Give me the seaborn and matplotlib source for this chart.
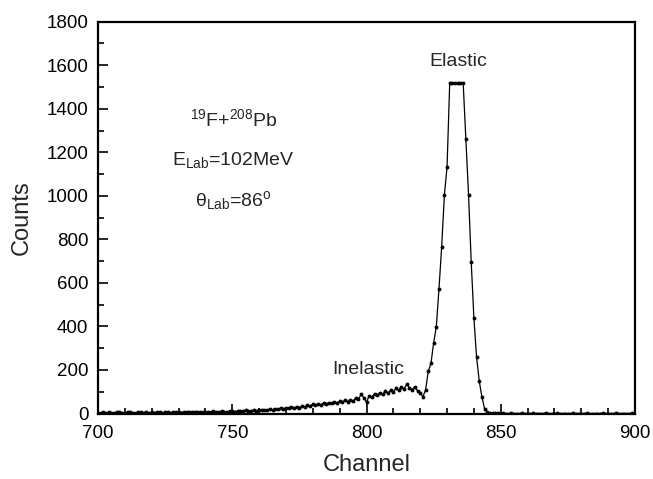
import numpy as np
import pandas as pd
import matplotlib
matplotlib.use("Agg")
import matplotlib.pyplot as plt
import seaborn as sns
from matplotlib.ticker import MultipleLocator

# ---- data ----
channel_start = 700
counts_700_749 = [4, 3, 5, 2, 6, 4, 3, 5, 7, 4,
                  3, 6, 5, 4, 2, 5, 7, 4, 6, 3,
                  5, 4, 6, 8, 3, 5, 6, 4, 7, 5,
                  6, 4, 8, 5, 7, 6, 9, 5, 7, 8,
                  6, 9, 7, 10, 8, 6, 11, 9, 8, 10]
counts_750_799 = [12, 9, 11, 13, 10, 14, 12, 11, 15, 13,
                  16, 14, 18, 15, 20, 17, 22, 19, 24, 21,
                  26, 23, 28, 25, 31, 27, 34, 30, 38, 35,
                  42, 38, 45, 40, 48, 44, 50, 46, 53, 49,
                  56, 52, 60, 55, 64, 58, 70, 66, 88, 72]
counts_800_849 = [52, 82, 76, 90, 85, 96, 88, 102, 94, 108,
                  100, 115, 106, 124, 112, 136, 118, 110, 122, 104,
                  95, 78, 107, 194, 230, 324, 398, 574, 766, 1002,
                  1133, 1520, 1520, 1520, 1520, 1520, 1520, 1263, 1006, 696,
                  438, 258, 148, 75, 21, 8, 3, 2, 1, 1]
counts_850_900 = [0, 1, 0, 0, 1, 0, 0, 0, 1, 0,
                  0, 0, 1, 0, 0, 0, 0, 1, 0, 0,
                  0, 1, 0, 0, 0, 0, 0, 1, 0, 0,
                  0, 0, 1, 0, 0, 0, 0, 0, 1, 0,
                  0, 0, 0, 1, 0, 0, 0, 0, 0, 1, 0]

counts = counts_700_749 + counts_750_799 + counts_800_849 + counts_850_900
channels = list(range(channel_start, channel_start + len(counts)))

df = pd.DataFrame({"Channel": channels, "Counts": counts})

# ---- style ----
sns.set_style("white")
plt.rcParams["font.family"] = ["Liberation Sans", "DejaVu Sans"]
plt.rcParams["mathtext.fontset"] = "custom"
plt.rcParams["mathtext.rm"] = "Liberation Sans"
plt.rcParams["mathtext.it"] = "Liberation Sans:italic"

fig = plt.figure(figsize=(6.53, 4.79), dpi=100)
ax = fig.add_axes([98 / 653, 1 - 413.5 / 479, (635 - 98) / 653, (413.5 - 21.7) / 479])

sns.lineplot(data=df, x="Channel", y="Counts", ax=ax, color="black",
             linewidth=0.9, marker="o", markersize=2.8,
             markeredgecolor="black", markeredgewidth=0)

ax.set_xlim(700, 900)
ax.set_ylim(0, 1800)
ax.xaxis.set_major_locator(MultipleLocator(50))
ax.xaxis.set_minor_locator(MultipleLocator(10))
ax.yaxis.set_major_locator(MultipleLocator(200))
ax.yaxis.set_minor_locator(MultipleLocator(100))
ax.tick_params(which="both", direction="in", top=False, right=False,
               bottom=True, left=True, width=1.2, colors="black")
ax.tick_params(which="major", length=7, labelsize=13.5)
ax.tick_params(axis="x", which="major", pad=8)
ax.tick_params(axis="y", which="major", pad=7)
ax.tick_params(which="minor", length=4)
for s in ax.spines.values():
    s.set_linewidth(1.6)
    s.set_color("black")

ax.set_xlabel("Channel", fontsize=17, labelpad=9)
ax.set_ylabel("Counts", fontsize=17, labelpad=10)

fs = 14
ax.text(834, 1615, "Elastic", ha="center", va="center", fontsize=fs)
ax.text(800.5, 200, "Inelastic", ha="center", va="center", fontsize=fs)
ax.text(750.5, 1353, r"$^{19}$F+$^{208}$Pb", ha="center", va="center", fontsize=fs)
ax.text(750.5, 1164, r"E$_{\mathrm{Lab}}$=102MeV", ha="center", va="center", fontsize=fs)
ax.text(750.5, 980, r"θ$_{\mathrm{Lab}}$=86$^{\mathrm{o}}$", ha="center", va="center", fontsize=fs)

fig.savefig("out.png", dpi=100, facecolor="white")
